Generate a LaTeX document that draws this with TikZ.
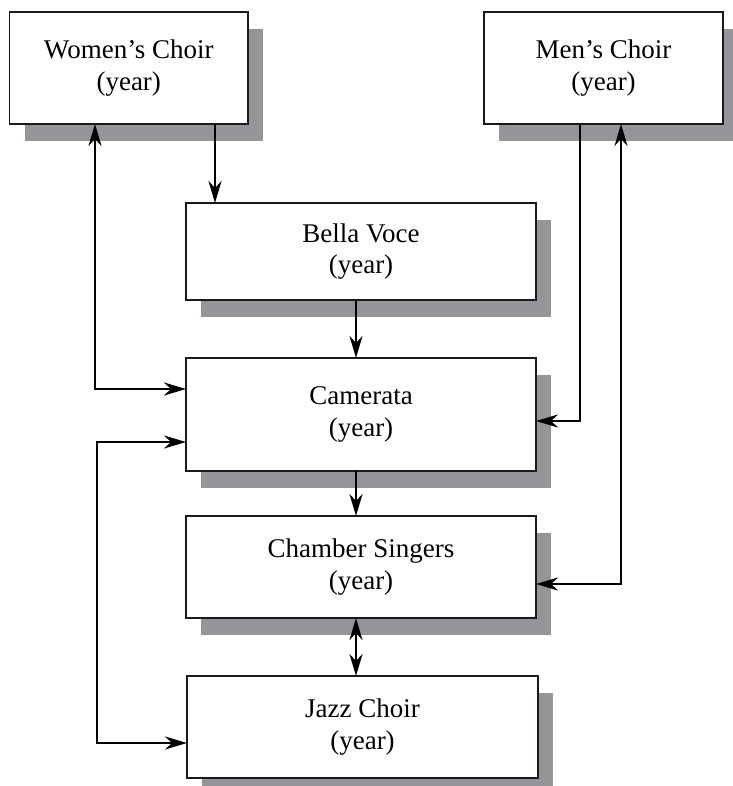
\documentclass[tikz,border=0pt]{standalone}
\usepackage{fontspec}
\setmainfont{Liberation Serif}
\usetikzlibrary{arrows.meta}
\definecolor{shade}{HTML}{939598}
\pgfdeclarelayer{bg}
\pgfsetlayers{bg,main}
\tikzset{
  box/.style={draw=black!90, line width=1.5pt, fill=white, align=center,
    inner sep=0pt, outer sep=0pt, font=\fontsize{27}{31.5}\selectfont},
  tipx/.tip={Stealth[length=22pt,width=13pt,inset=7pt]},
  arr/.style={line width=2.6pt, -tipx},
  darr/.style={line width=2.6pt, tipx-tipx},
  shadowfill/.style={fill=shade}
}
\begin{document}
\begin{tikzpicture}[x=1pt,y=-1pt]
\clip (0,0) rectangle (732,786);
\useasboundingbox (0,0) rectangle (732,786);

\node[box, minimum width=238.5pt, minimum height=112pt] (w) at (128.75,68) {Women’s Choir\\(year)};
\node[box, minimum width=239pt, minimum height=112pt] (m) at (603.5,68) {Men’s Choir\\(year)};
\node[box, minimum width=350pt, minimum height=97pt] (b) at (361,251.5) {Bella Voce\\(year)};
\node[box, minimum width=350pt, minimum height=113pt] (c) at (361,414.5) {Camerata\\(year)};
\node[box, minimum width=350pt, minimum height=102pt] (s) at (361,567) {Chamber Singers\\(year)};
\node[box, minimum width=351pt, minimum height=102pt] (j) at (362.5,727) {Jazz Choir\\(year)};

\begin{pgfonlayer}{bg}
  \foreach \n in {w,m,b,c,s,j}{
    \fill[shadowfill] ([shift={(15,17)}]\n.north west) rectangle ([shift={(15,17)}]\n.south east);
  }
\end{pgfonlayer}

\coordinate (xa) at (215,0);
\coordinate (xm) at (356,0);
\coordinate (c1) at (95,389);
\coordinate (m1) at (580,421);
\coordinate (m2) at (621,584);
\coordinate (l1) at (97,442);
\coordinate (l2) at (97,743);

\draw[arr] (w.south -| xa) -- (b.north -| xa);
\draw[darr] (w.south -| c1) -- (c1) -- (c.west |- c1);
\draw[arr] (b.south -| xm) -- (c.north -| xm);
\draw[arr] (m.south -| m1) -- (m1) -- (c.east |- m1);
\draw[darr] (s.east |- m2) -- (m2) -- (m.south -| m2);
\draw[arr] (c.south -| xm) -- (s.north -| xm);
\draw[darr] (s.south -| xm) -- (j.north -| xm);
\draw[darr] (c.west |- l1) -- (l1) -- (l2) -- (j.west |- l2);
\end{tikzpicture}
\end{document}
